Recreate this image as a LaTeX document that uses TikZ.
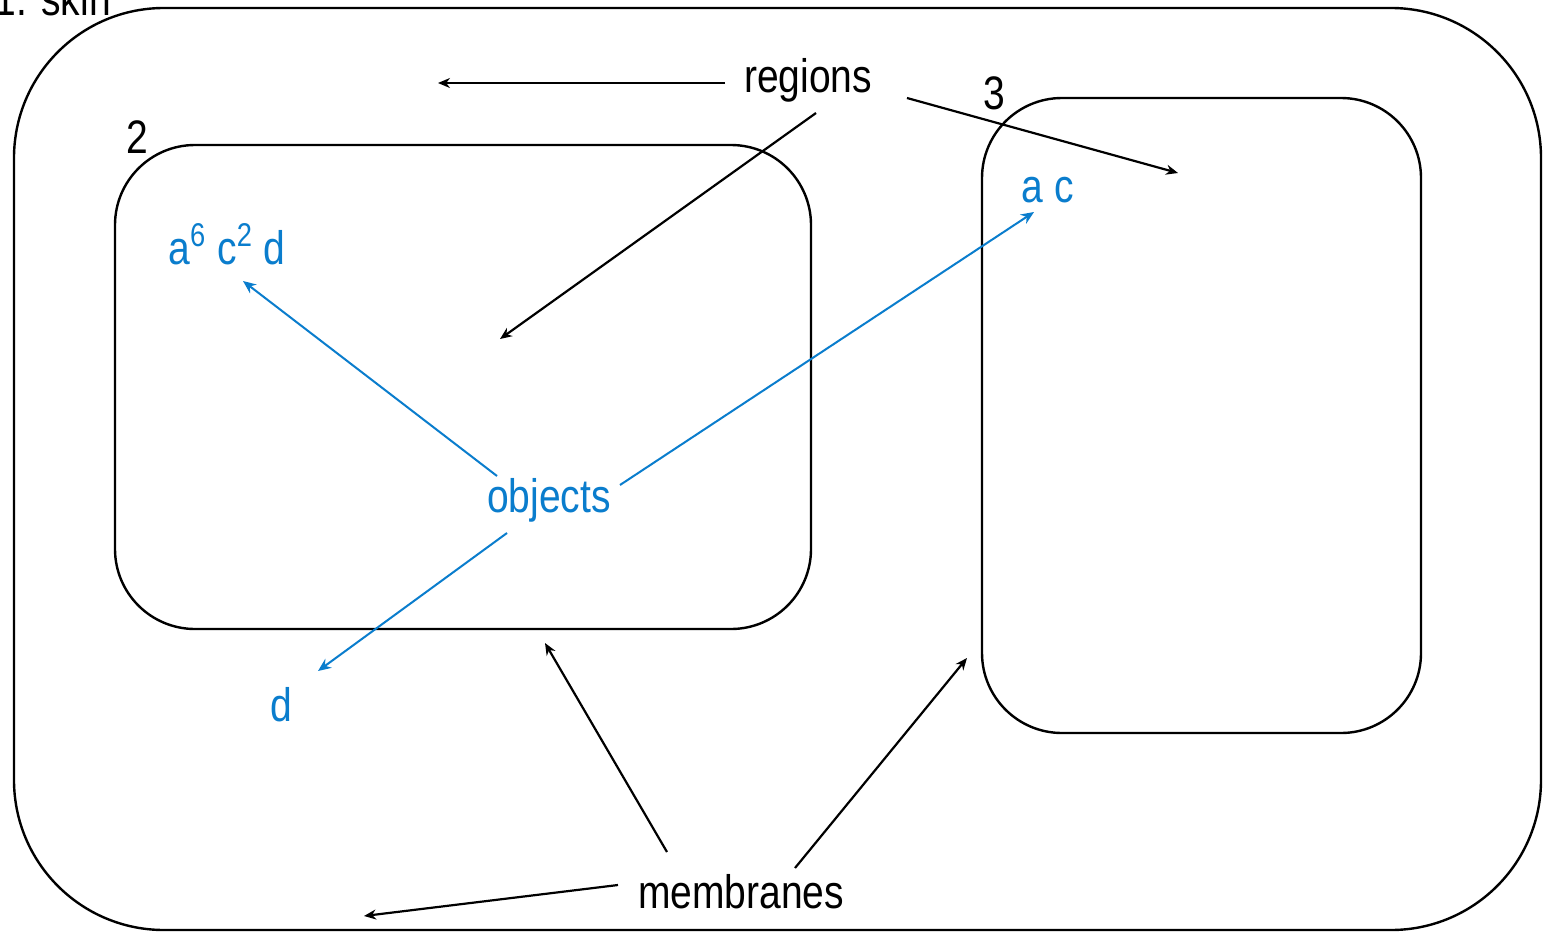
\documentclass[tikz,border=0pt]{standalone}
\usepackage{fontspec}
\setmainfont{Liberation Sans}[FakeStretch=0.83]
\usetikzlibrary{arrows.meta}
\definecolor{objblue}{RGB}{10,125,205}
\begin{document}
\begin{tikzpicture}[x=0.5pt,y=-0.5pt,
  membrane/.style={draw=black,line width=1.2pt,rectangle,inner sep=0pt},
  lbl/.style={font=\fontsize{23.5}{28}\selectfont,inner sep=0pt,text=black},
  obj/.style={font=\fontsize{23.5}{28}\selectfont,inner sep=0pt,text=objblue},
  ptr/.style={draw=black,line width=1.1pt,-{Stealth[length=6pt,width=5pt]}},
  optr/.style={draw=objblue,line width=1pt,-{Stealth[length=6.5pt,width=5.5pt]}}]
\useasboundingbox (0,0) rectangle (1547,937);
\clip (0,0) rectangle (1547,937);
\fill[white] (0,0) rectangle (1547,937);

% membranes
\node[membrane,rounded corners=75pt,minimum width=763.5pt,minimum height=461pt] (skin) at (777.5,469) {};
\node[membrane,rounded corners=40pt,minimum width=348pt,minimum height=242pt] (m2) at (463,387) {};
\node[membrane,rounded corners=40pt,minimum width=219.5pt,minimum height=317.5pt] (m3) at (1201.5,415.5) {};

% membrane labels
\node[lbl,anchor=base west] (lskin) at (-6,15) {1. skin};
\node[lbl] (l2) at (137,137) {2};
\node[lbl] (l3) at (994,93) {3};

% captions
\node[lbl] (regions) at (808,80) {regions};
\node[lbl] (membranes) at (741,892) {membranes};
\node[obj] (objects) at (549,500) {objects};

% object multisets
\node[obj] (o2) at (227,244) {a\textsuperscript{6} c\textsuperscript{2} d};
\node[obj] (o3) at (1048,190) {a c};
\node[obj] (o1) at (281,705) {d};

% arrow end points
\coordinate (r1s) at (725,83);  \coordinate (r1e) at (438,83);
\coordinate (r2s) at (816,113); \coordinate (r2e) at (500,339);
\coordinate (r3s) at (907,98);  \coordinate (r3e) at (1178,173);
\coordinate (m1s) at (618,885); \coordinate (m1e) at (364,916);
\coordinate (m2s) at (667,852); \coordinate (m2e) at (545,643);
\coordinate (m3s) at (795,868); \coordinate (m3e) at (967,658);
\coordinate (b1s) at (497,476); \coordinate (b1e) at (243,281);
\coordinate (b2s) at (620,485); \coordinate (b2e) at (1034,212);
\coordinate (b3s) at (507,533); \coordinate (b3e) at (318,671);

% region pointers
\draw[ptr] (r1s) -- (r1e);
\draw[ptr] (r2s) -- (r2e);
\draw[ptr] (r3s) -- (r3e);
% membrane pointers
\draw[ptr] (m1s) -- (m1e);
\draw[ptr] (m2s) -- (m2e);
\draw[ptr] (m3s) -- (m3e);
% object pointers
\draw[optr] (b1s) -- (b1e);
\draw[optr] (b2s) -- (b2e);
\draw[optr] (b3s) -- (b3e);
\end{tikzpicture}
\end{document}
